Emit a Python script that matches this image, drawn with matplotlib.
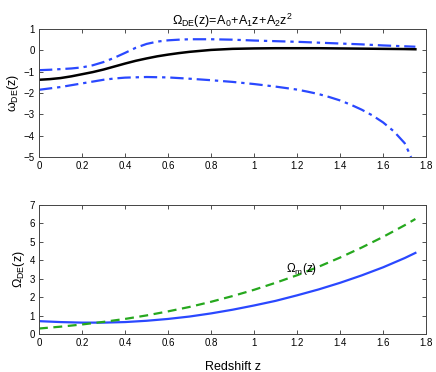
import numpy as np
import matplotlib
matplotlib.use('Agg')
import matplotlib.pyplot as plt

plt.rcParams['font.family'] = ['Liberation Sans', 'DejaVu Sans']
plt.rcParams['mathtext.fontset'] = 'custom'
plt.rcParams['mathtext.rm'] = 'Liberation Sans'
plt.rcParams['mathtext.it'] = 'Liberation Sans'

# ── data ─────────────────────────────────────────────────────
z_w = [0.0, 0.05, 0.1, 0.15, 0.2, 0.25, 0.3, 0.35, 0.4, 0.45, 0.5, 0.55, 0.6,
       0.65, 0.7, 0.8, 0.9, 1.0, 1.1, 1.2, 1.3, 1.4, 1.5, 1.6, 1.7, 1.75]
w_best = [-1.38, -1.35, -1.30, -1.22, -1.12, -1.02, -0.90, -0.76, -0.62, -0.49,
          -0.38, -0.28, -0.20, -0.13, -0.07, 0.02, 0.07, 0.09, 0.10, 0.10,
          0.10, 0.09, 0.08, 0.07, 0.06, 0.05]
w_upper = [-0.93, -0.91, -0.88, -0.85, -0.80, -0.70, -0.55, -0.35, -0.12, 0.12,
           0.30, 0.41, 0.47, 0.50, 0.52, 0.52, 0.50, 0.46, 0.43, 0.40,
           0.36, 0.32, 0.28, 0.23, 0.19, 0.17]
z_low = [0.0, 0.1, 0.2, 0.3, 0.35, 0.4, 0.5, 0.6, 0.7, 0.8, 0.9, 1.0, 1.1, 1.2,
         1.25, 1.3, 1.35, 1.4, 1.45, 1.5, 1.55, 1.6, 1.65, 1.7, 1.73]
w_lower = [-1.85, -1.72, -1.55, -1.38, -1.32, -1.28, -1.25, -1.27, -1.33, -1.40,
           -1.48, -1.58, -1.70, -1.84, -1.94, -2.05, -2.19, -2.35, -2.55, -2.78,
           -3.05, -3.38, -3.80, -4.35, -5.0]

z_om = [0.0, 0.1, 0.2, 0.3, 0.4, 0.5, 0.6, 0.7, 0.8, 0.9, 1.0,
        1.1, 1.2, 1.3, 1.4, 1.5, 1.6, 1.7, 1.75]
om_de = [0.70, 0.65, 0.62, 0.62, 0.65, 0.72, 0.82, 0.95, 1.12, 1.32, 1.55,
         1.80, 2.10, 2.42, 2.78, 3.18, 3.62, 4.12, 4.40]
om_m = [0.30, 0.40, 0.52, 0.66, 0.82, 1.01, 1.23, 1.47, 1.75, 2.06, 2.40,
        2.78, 3.19, 3.65, 4.15, 4.69, 5.27, 5.90, 6.24]

blue = '#2a48ff'
green = '#26a81e'
dashdot = (0, (6, 2.2, 1.5, 2.2))

fig = plt.figure(figsize=(4.36, 3.72), dpi=100)
ax1 = fig.add_axes([0.0894, 0.578, 0.888, 0.344])
ax2 = fig.add_axes([0.0894, 0.102, 0.888, 0.347])

ax1.plot(z_w, w_upper, color=blue, lw=1.6, ls=dashdot)
ax1.plot(z_low, w_lower, color=blue, lw=1.6, ls=dashdot)
ax1.plot(z_w, w_best, color='black', lw=1.8)
ax1.set_ylim(-5, 1)
ax1.set_yticks(range(-5, 2))
ax1.set_ylabel(r'$\mathregular{\omega_{DE}(z)}$', fontsize=9, labelpad=2)
ax1.set_title(r'$\mathregular{\Omega_{DE}(z)\!=\!A_0\!+\!A_1z\!+\!A_2z^2}$',
              fontsize=9, pad=3)

ax2.plot(z_om, om_de, color=blue, lw=1.6)
ax2.plot(z_om, om_m, color=green, lw=1.6, ls=(0, (4, 2.5)))
ax2.set_ylim(0, 7)
ax2.set_yticks(range(0, 8))
ax2.set_ylabel(r'$\mathregular{\Omega_{DE}(z)}$', fontsize=9, labelpad=2)
ax2.set_xlabel('Redshift z', fontsize=9, labelpad=9)
ax2.text(1.15, 3.55, r'$\mathregular{\Omega_m(z)}$', fontsize=8.5,
         ha='left', va='center')

for ax in (ax1, ax2):
    ax.set_xlim(0, 1.8)
    ax.set_xticks(np.arange(0, 1.81, 0.2))
    ax.set_xticklabels(['0', '0.2', '0.4', '0.6', '0.8', '1', '1.2', '1.4', '1.6', '1.8'])
    ax.tick_params(direction='in', top=True, right=True, length=3,
                   width=0.6, labelsize=7, color='#333333', pad=3)
    for s in ax.spines.values():
        s.set_linewidth(0.7)
        s.set_color('#444444')

fig.savefig('out.png', dpi=100)
